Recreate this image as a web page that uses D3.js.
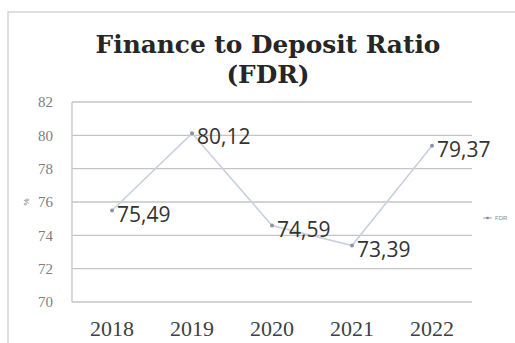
<!DOCTYPE html>
<html>
<head>
<meta charset="utf-8">
<script src="https://cdn.jsdelivr.net/npm/d3@7"></script>
<style>
  html, body { margin: 0; padding: 0; background: #fff; }
  svg { display: block; }
</style>
</head>
<body>
<svg id="chart" width="515" height="343"></svg>
<script>
// FDR series, one value per year
const years = ["2018", "2019", "2020", "2021", "2022"];
const fdrValues = [75.49, 80.12, 74.59, 73.39, 79.37];
const yTicks = [70, 72, 74, 76, 78, 80, 82];
const titleLines = ["Finance to Deposit Ratio", "(FDR)"];
const seriesName = "FDR";

const svg = d3.select("#chart");
const W = 515, H = 343;
const plot = { left: 72, right: 472, top: 102, bottom: 302 };

// outer chart frame (top and left edges visible)
svg.append("path")
  .attr("d", `M8,${H} L8,12 L${W},12`)
  .attr("fill", "none")
  .attr("stroke", "#d4d4d4")
  .attr("stroke-width", 1.5);

// title, sized so the first line spans about 345px
const title = svg.append("text")
  .attr("text-anchor", "middle")
  .attr("font-family", "'DejaVu Serif', serif")
  .attr("font-weight", "bold")
  .attr("font-size", 25)
  .attr("fill", "#262626");
const tspans = titleLines.map((t, i) =>
  title.append("tspan").attr("x", 268).attr("y", 53 + i * 30).text(t));
const w0 = tspans[0].node().getComputedTextLength();
title.attr("font-size", 25 * 345 / w0);

const x = d3.scaleBand().domain(years).range([plot.left, plot.right]);
const y = d3.scaleLinear().domain([70, 82]).range([plot.bottom, plot.top]);

// horizontal gridlines
svg.append("g")
  .selectAll("line")
  .data(yTicks)
  .join("line")
  .attr("x1", plot.left).attr("x2", plot.right)
  .attr("y1", d => y(d)).attr("y2", d => y(d))
  .attr("stroke", "#c4c4c4")
  .attr("stroke-width", 1.3);

// left axis line
svg.append("line")
  .attr("x1", plot.left).attr("x2", plot.left)
  .attr("y1", y(82)).attr("y2", y(70))
  .attr("stroke", "#c4c4c4")
  .attr("stroke-width", 1.3);

// y axis labels
const yAxis = d3.axisLeft(y).tickValues(yTicks).tickSize(0).tickPadding(19)
  .tickFormat(d3.format("d"));
const gy = svg.append("g").attr("transform", `translate(${plot.left},0)`).call(yAxis);
gy.select(".domain").remove();
gy.selectAll("text")
  .attr("font-family", "'Liberation Serif', serif")
  .attr("font-size", 15)
  .attr("fill", "#808080");

// y axis title
svg.append("text")
  .attr("transform", `translate(26,${y(76)}) rotate(-90)`)
  .attr("text-anchor", "middle")
  .attr("dominant-baseline", "central")
  .attr("font-family", "'Liberation Sans', sans-serif")
  .attr("font-size", 8)
  .attr("fill", "#7a7a7a")
  .text("%");

// x axis labels
const xAxis = d3.axisBottom(x).tickSize(0).tickPadding(18);
const gx = svg.append("g").attr("transform", `translate(0,${plot.bottom})`).call(xAxis);
gx.select(".domain").remove();
gx.selectAll("text")
  .attr("font-family", "'Liberation Serif', serif")
  .attr("font-size", 22)
  .attr("fill", "#404040");

const cx = d => x(d) + x.bandwidth() / 2;
const pts = years.map((yr, i) => ({ yr, v: fdrValues[i] }));

// series line
svg.append("path")
  .datum(pts)
  .attr("fill", "none")
  .attr("stroke", "#c8d0de")
  .attr("stroke-width", 1.6)
  .attr("d", d3.line().x(d => cx(d.yr)).y(d => y(d.v)));

// markers
svg.append("g")
  .selectAll("circle")
  .data(pts)
  .join("circle")
  .attr("cx", d => cx(d.yr))
  .attr("cy", d => y(d.v))
  .attr("r", 2)
  .attr("fill", "#8c94a6");

// data labels
const fmt = v => d3.format(".2f")(v).replace(".", ",");
svg.append("g")
  .selectAll("text")
  .data(pts)
  .join("text")
  .attr("x", d => cx(d.yr) + 5)
  .attr("y", d => y(d.v) + 3)
  .attr("dominant-baseline", "central")
  .attr("font-family", "'Open Sans', sans-serif")
  .attr("font-size", 21)
  .attr("fill", "#333")
  .text(d => fmt(d.v));

// legend
const lg = svg.append("g").attr("transform", "translate(483,218)");
lg.append("line").attr("x1", 0).attr("x2", 9).attr("y1", 0).attr("y2", 0)
  .attr("stroke", "#9aa3b5").attr("stroke-width", 1);
lg.append("circle").attr("cx", 4.5).attr("cy", 0).attr("r", 1.3).attr("fill", "#7d869a");
lg.append("text").attr("x", 12).attr("y", 0)
  .attr("dominant-baseline", "central")
  .attr("font-family", "'Liberation Sans', sans-serif")
  .attr("font-size", 6)
  .attr("fill", "#8a8a8a")
  .text(seriesName);
</script>
</body>
</html>
